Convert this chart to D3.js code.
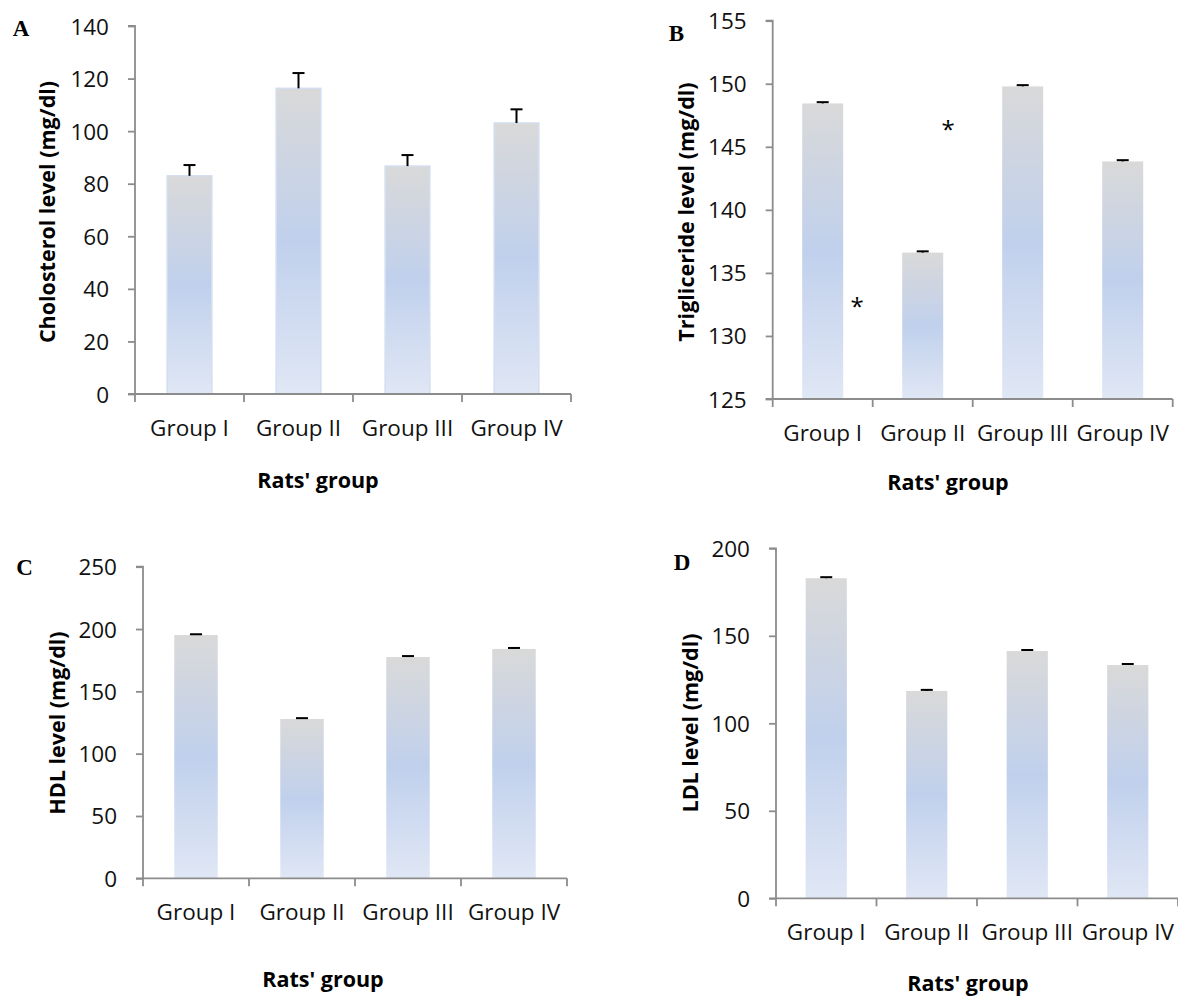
<!DOCTYPE html>
<html>
<head>
<meta charset="utf-8">
<script src="https://cdn.jsdelivr.net/npm/d3@7"></script>
<style>
  html, body { margin: 0; padding: 0; background: #ffffff; }
  svg { display: block; }
</style>
</head>
<body>
<svg id="chart" width="1178" height="997"></svg>
<script>
// ---------------- DATA ----------------
const groups = ["Group I", "Group II", "Group III", "Group IV"];

const cholesterol = [83.0, 116.3, 86.7, 103.1];
const cholesterolErr = [4.1, 5.8, 4.2, 5.2];

const triglyceride = [148.44, 136.61, 149.79, 143.84];
const triglycerideErr = [0.1, 0.1, 0.1, 0.1];

const hdl = [195.2, 127.8, 177.5, 184.0];
const hdlErr = [0.6, 0.7, 0.8, 0.8];

const ldl = [182.9, 118.5, 141.3, 133.3];
const ldlErr = [0.6, 0.6, 0.6, 0.6];

const cholesterolTicks = [0, 20, 40, 60, 80, 100, 120, 140];
const triglycerideTicks = [125, 130, 135, 140, 145, 150, 155];
const hdlTicks = [0, 50, 100, 150, 200, 250];
const ldlTicks = [0, 50, 100, 150, 200];

// significance asterisks in panel B: position in category units (0..4) and value
const asteriskCat = [0.843, 1.753];
const asteriskVal = [132.8, 146.8];

const panelLetters = ["A", "B", "C", "D"];
const yTitles = ["Cholosterol level (mg/dl)", "Trigliceride level (mg/dl)", "HDL level (mg/dl)", "LDL level (mg/dl)"];
const xTitle = "Rats' group";

// ---------------- LAYOUT ----------------
const panels = [
  { letter: panelLetters[0], values: cholesterol, errs: cholesterolErr, ticks: cholesterolTicks, yTitle: yTitles[0],
    x0: 135, x1: 571, yTop: 26, yBot: 394, border: true,
    letterPos: [21, 28.5], yTitlePos: [46, 212], xTitlePos: [318, 479] },
  { letter: panelLetters[1], values: triglyceride, errs: triglycerideErr, ticks: triglycerideTicks, yTitle: yTitles[1],
    x0: 772.7, x1: 1172.7, yTop: 20.7, yBot: 399, border: false,
    letterPos: [676.5, 33.5], yTitlePos: [685, 212], xTitlePos: [948, 481] },
  { letter: panelLetters[2], values: hdl, errs: hdlErr, ticks: hdlTicks, yTitle: yTitles[2],
    x0: 143, x1: 567, yTop: 566.7, yBot: 878.3, border: false,
    letterPos: [24.5, 567], yTitlePos: [56, 723], xTitlePos: [323, 978] },
  { letter: panelLetters[3], values: ldl, errs: ldlErr, ticks: ldlTicks, yTitle: yTitles[3],
    x0: 776, x1: 1178, yTop: 548.3, yBot: 898.3, border: false,
    letterPos: [682, 562], yTitlePos: [689, 723], xTitlePos: [968, 982] }
];

const svg = d3.select("#chart");
const axisColor = "#8c8c8c";
const tickFont = "'Open Sans', 'Noto Sans', sans-serif";

// gradient for bars
const defs = svg.append("defs");
const grad = defs.append("linearGradient")
  .attr("id", "barGrad").attr("x1", 0).attr("y1", 0).attr("x2", 0).attr("y2", 1);
grad.append("stop").attr("offset", "0%").attr("stop-color", "#d9d9d9");
grad.append("stop").attr("offset", "50%").attr("stop-color", "#c0d0ec");
grad.append("stop").attr("offset", "100%").attr("stop-color", "#e0e7f5");

panels.forEach((p, pi) => {
  const g = svg.append("g");
  const domain = [p.ticks[0], p.ticks[p.ticks.length - 1]];
  const y = d3.scaleLinear().domain(domain).range([p.yBot, p.yTop]);
  const x = d3.scaleBand().domain(groups).range([p.x0, p.x1])
    .paddingInner(0.59).paddingOuter(0.295);
  const xc = d3.scaleLinear().domain([0, groups.length]).range([p.x0, p.x1]);

  // bars
  g.selectAll("rect.bar").data(p.values).enter().append("rect")
    .attr("class", "bar")
    .attr("x", (d, i) => x(groups[i]))
    .attr("width", x.bandwidth())
    .attr("y", d => y(d))
    .attr("height", d => p.yBot - y(d))
    .attr("fill", "url(#barGrad)")
    .attr("stroke", p.border ? "#d3def0" : "none")
    .attr("stroke-width", p.border ? 1.5 : 0);

  // error bars (upper only)
  const eb = g.selectAll("g.err").data(p.values).enter().append("g").attr("class", "err");
  eb.append("line")
    .attr("x1", (d, i) => x(groups[i]) + x.bandwidth() / 2)
    .attr("x2", (d, i) => x(groups[i]) + x.bandwidth() / 2)
    .attr("y1", d => y(d))
    .attr("y2", (d, i) => y(d + p.errs[i]))
    .attr("stroke", "#000").attr("stroke-width", 2);
  eb.append("line")
    .attr("x1", (d, i) => x(groups[i]) + x.bandwidth() / 2 - 6)
    .attr("x2", (d, i) => x(groups[i]) + x.bandwidth() / 2 + 6)
    .attr("y1", (d, i) => y(d + p.errs[i]))
    .attr("y2", (d, i) => y(d + p.errs[i]))
    .attr("stroke", "#000").attr("stroke-width", 2);

  // y axis
  const yAxis = d3.axisLeft(y).tickValues(p.ticks).tickSize(7).tickPadding(19).tickFormat(d3.format("d"));
  const ya = g.append("g").attr("transform", `translate(${p.x0},0)`).call(yAxis);
  ya.select(".domain").attr("stroke", axisColor).attr("stroke-width", 1.8)
    .attr("d", `M-7,${p.yTop}H0V${p.yBot}`);
  ya.selectAll(".tick line").attr("stroke", axisColor).attr("stroke-width", 1.8);
  ya.selectAll(".tick text")
    .attr("font-family", tickFont).attr("font-size", 22.5).attr("fill", "#111")
    .attr("dy", null).attr("y", 8);

  // x axis line and boundary ticks
  g.append("line").attr("x1", p.x0 - 7).attr("x2", p.x1).attr("y1", p.yBot).attr("y2", p.yBot)
    .attr("stroke", axisColor).attr("stroke-width", 1.8);
  g.selectAll("line.xtick").data(d3.range(groups.length + 1)).enter().append("line")
    .attr("class", "xtick")
    .attr("x1", k => xc(k)).attr("x2", k => xc(k))
    .attr("y1", p.yBot).attr("y2", p.yBot + 8)
    .attr("stroke", axisColor).attr("stroke-width", 1.8);

  // x labels
  g.selectAll("text.xlab").data(groups).enter().append("text")
    .attr("class", "xlab")
    .attr("x", d => x(d) + x.bandwidth() / 2)
    .attr("y", p.yBot + 42)
    .attr("text-anchor", "middle")
    .attr("font-family", tickFont).attr("font-size", 22.5).attr("fill", "#111")
    .text(d => d);

  // titles
  g.append("text")
    .attr("transform", `translate(${p.yTitlePos[0]},${p.yTitlePos[1]}) rotate(-90)`)
    .attr("text-anchor", "middle").attr("dominant-baseline", "central")
    .attr("font-family", tickFont).attr("font-weight", "bold").attr("font-size", 21.5).attr("fill", "#000")
    .text(p.yTitle);
  g.append("text")
    .attr("x", p.xTitlePos[0]).attr("y", p.xTitlePos[1])
    .attr("text-anchor", "middle").attr("dominant-baseline", "central")
    .attr("font-family", tickFont).attr("font-weight", "bold").attr("font-size", 21.5).attr("fill", "#000")
    .text(xTitle);

  // panel letter
  g.append("text")
    .attr("x", p.letterPos[0]).attr("y", p.letterPos[1])
    .attr("text-anchor", "middle").attr("dominant-baseline", "central")
    .attr("font-family", "'Liberation Serif', 'DejaVu Serif', serif").attr("font-weight", "bold")
    .attr("font-size", 23).attr("fill", "#000")
    .text(p.letter);

  // asterisks for panel B
  if (pi === 1) {
    g.selectAll("text.ast").data(asteriskVal).enter().append("text")
      .attr("class", "ast")
      .attr("x", (d, i) => xc(asteriskCat[i]))
      .attr("y", d => y(d) + 14)
      .attr("text-anchor", "middle")
      .attr("font-family", tickFont).attr("font-size", 24).attr("fill", "#000")
      .text("*");
  }
});
</script>
</body>
</html>
